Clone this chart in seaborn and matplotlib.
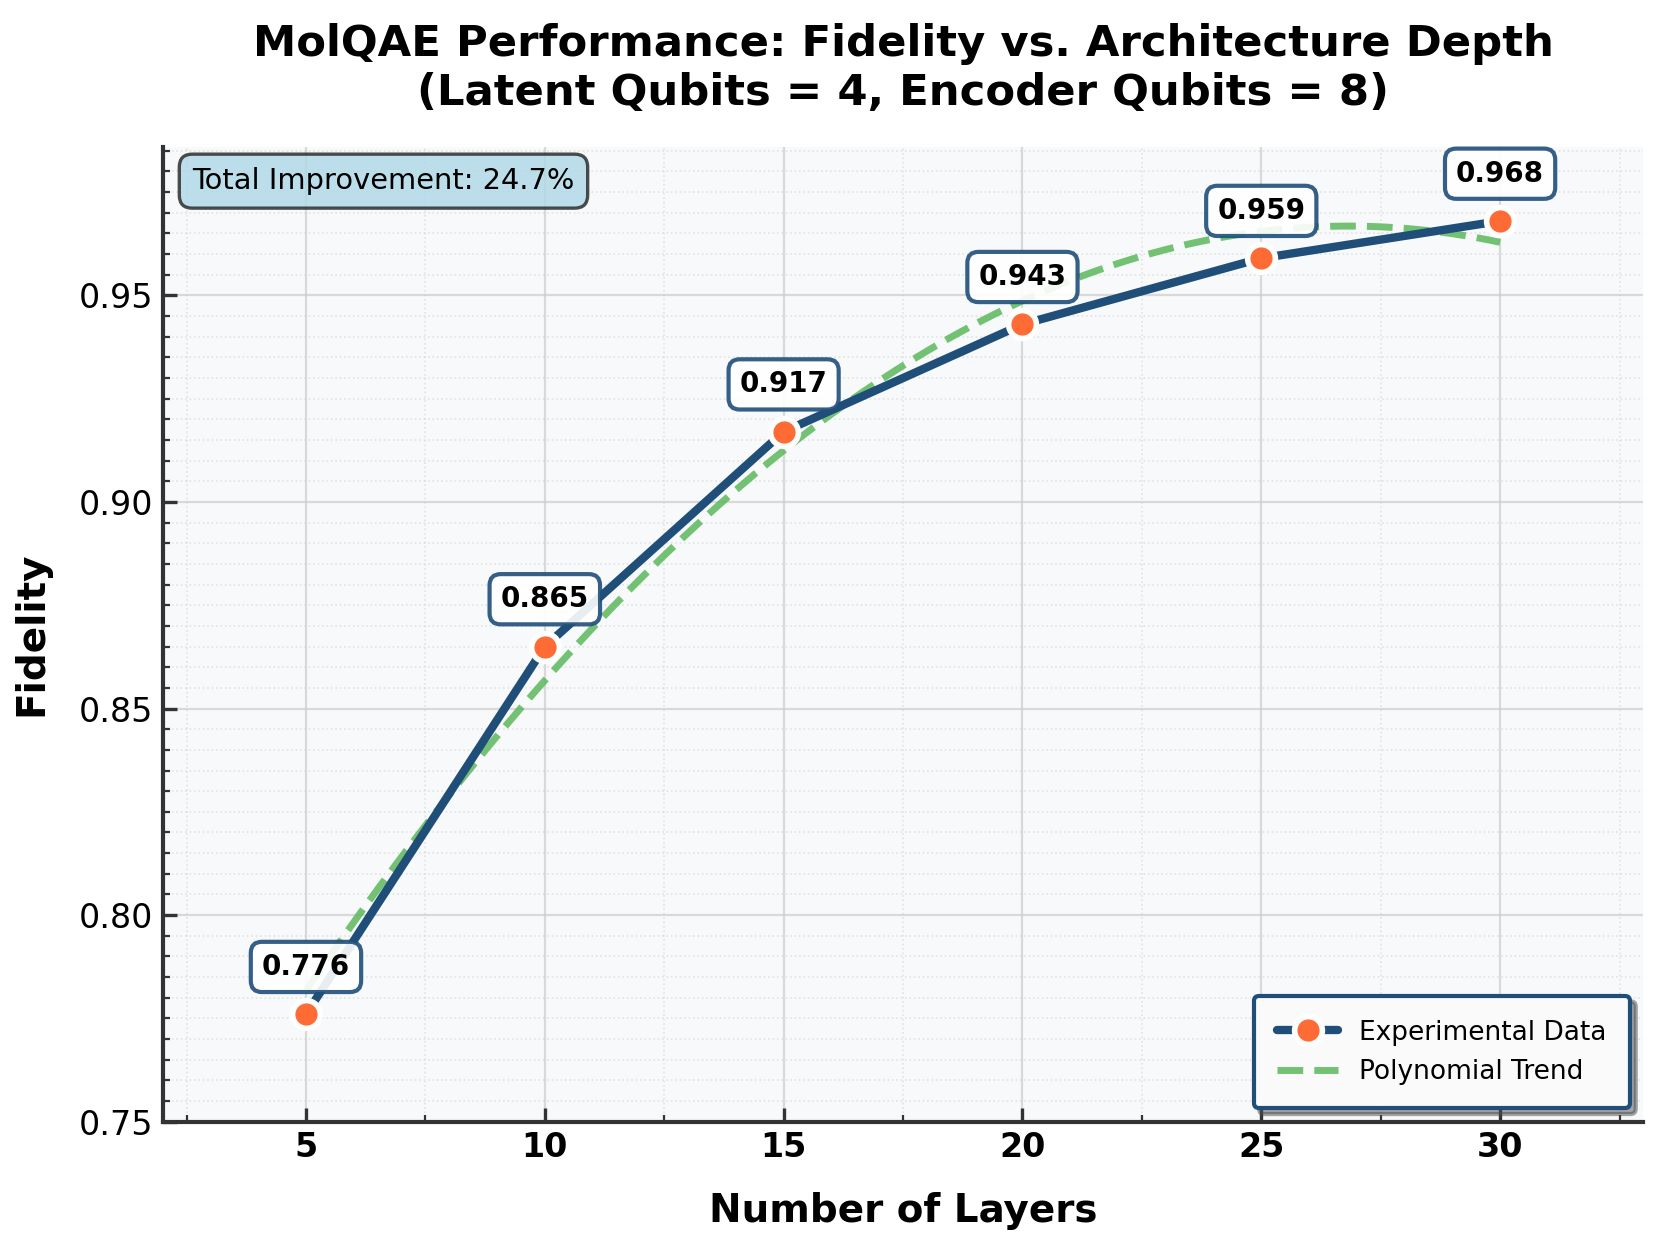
import numpy as np
import pandas as pd
import matplotlib
matplotlib.use("Agg")
import matplotlib.pyplot as plt
from matplotlib.ticker import MultipleLocator
import seaborn as sns

# data
layers = [5, 10, 15, 20, 25, 30]
fidelity = [0.776, 0.865, 0.917, 0.943, 0.959, 0.968]

line_color = '#1f4e79'
marker_color = '#ff6b35'
trend_color = '#5cb85c'

df = pd.DataFrame({'Layers': layers, 'Fidelity': fidelity})

# quadratic trend through the measured points
coef = np.polyfit(df['Layers'], df['Fidelity'], 2)
x_fit = np.linspace(df['Layers'].min(), df['Layers'].max(), 200)
df_fit = pd.DataFrame({'Layers': x_fit, 'Fidelity': np.polyval(coef, x_fit)})

sns.set_style("whitegrid")
plt.rcParams['font.family'] = ['DejaVu Sans']
plt.rcParams['text.color'] = 'black'
plt.rcParams['axes.labelcolor'] = 'black'

fig, ax = plt.subplots(figsize=(8.3, 6.215), dpi=200)
fig.subplots_adjust(left=0.098, right=0.990, bottom=0.0976, top=0.882)
ax.set_facecolor('#f8f9fa')

sns.lineplot(data=df, x='Layers', y='Fidelity', ax=ax, color=line_color, linewidth=3,
             marker='o', markersize=10, markerfacecolor=marker_color,
             markeredgecolor='white', markeredgewidth=2, label='Experimental Data', zorder=3)
sns.lineplot(data=df_fit, x='Layers', y='Fidelity', ax=ax, color=trend_color, linewidth=2.5,
             linestyle='--', alpha=0.85, label='Polynomial Trend', zorder=2)

for xv, yv in zip(layers, fidelity):
    ax.annotate(f"{yv:.3f}", (xv, yv), textcoords='offset points', xytext=(0, 12),
                ha='center', va='bottom', fontsize=10, fontweight='bold', color='black',
                bbox=dict(boxstyle='round,pad=0.4', facecolor='white',
                          edgecolor=line_color, alpha=0.9, linewidth=1.5), zorder=5)

improvement = (fidelity[-1] - fidelity[0]) / fidelity[0] * 100
ax.text(0.02, 0.979, f"Total Improvement: {improvement:.1f}%", transform=ax.transAxes,
        fontsize=10.4, va='top', ha='left', color='black',
        bbox=dict(boxstyle='round,pad=0.45', facecolor='#add8e6', edgecolor='#222222',
                  alpha=0.8, linewidth=1.2))

ax.set_xlim(min(layers) - 3, max(layers) + 3)
ax.set_ylim(0.75, 0.986)
ax.set_xticks(layers)
ax.xaxis.set_minor_locator(MultipleLocator(2.5))
ax.yaxis.set_major_locator(MultipleLocator(0.05))
ax.yaxis.set_minor_locator(MultipleLocator(0.005))

ax.grid(True, which='major', color='#cccccc', linestyle='-', linewidth=0.8, alpha=0.7)
ax.grid(True, which='minor', color='#cccccc', linestyle=':', linewidth=0.6, alpha=0.5)

ax.set_title('MolQAE Performance: Fidelity vs. Architecture Depth\n'
             '(Latent Qubits = 4, Encoder Qubits = 8)', fontsize=15.6, fontweight='bold',
             pad=15, color='black')
ax.set_xlabel('Number of Layers', fontsize=14, fontweight='bold', labelpad=10)
ax.set_ylabel('Fidelity', fontsize=14, fontweight='bold', labelpad=10)

ax.tick_params(which='major', direction='in', length=5, width=1.2, colors='#333333',
               labelcolor='black', labelsize=12)
ax.tick_params(which='minor', direction='in', length=2.5, width=0.8, colors='#333333')
ax.tick_params(axis='x', which='both', bottom=True)
ax.tick_params(axis='y', which='both', left=True)
for lab in ax.get_xticklabels():
    lab.set_fontweight('bold')

for side in ['top', 'right']:
    ax.spines[side].set_visible(False)
for side in ['left', 'bottom']:
    ax.spines[side].set_color('#333333')
    ax.spines[side].set_linewidth(1.5)

leg = ax.legend(loc='lower right', fontsize=9.5, frameon=True, fancybox=True, shadow=True,
                borderpad=0.9, handlelength=2.3, framealpha=1.0)
leg.get_frame().set_edgecolor(line_color)
leg.get_frame().set_facecolor('#fafafa')
leg.get_frame().set_linewidth(1.5)
for txt in leg.get_texts():
    txt.set_color('black')

plt.savefig('out.png', dpi=200)
print("Saved out.png")
